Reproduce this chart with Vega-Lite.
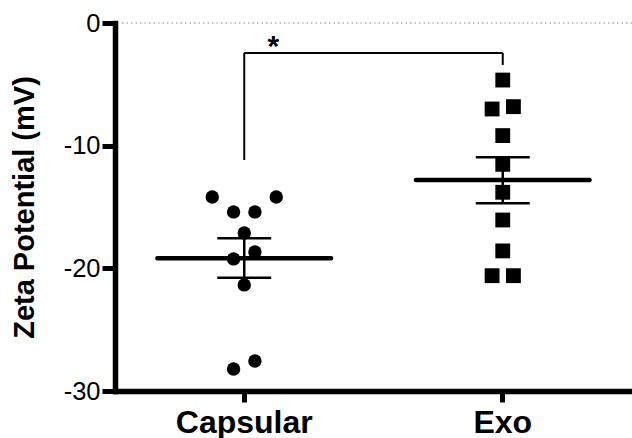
{
  "$schema": "https://vega.github.io/schema/vega-lite/v6.json",
  "width": 517,
  "height": 368,
  "autosize": {"type": "none"},
  "padding": {"left": 115, "top": 23, "right": 0, "bottom": 47},
  "background": "white",
  "config": {"view": {"stroke": null}, "font": "Liberation Sans"},
  "datasets": {
    "points": [
      {"group": "Capsular", "value": -14.18, "slot": -3},
      {"group": "Capsular", "value": -14.18, "slot": 3},
      {"group": "Capsular", "value": -15.40, "slot": -1},
      {"group": "Capsular", "value": -15.40, "slot": 1},
      {"group": "Capsular", "value": -17.11, "slot": 0},
      {"group": "Capsular", "value": -19.23, "slot": -1},
      {"group": "Capsular", "value": -18.66, "slot": 1},
      {"group": "Capsular", "value": -21.35, "slot": 0},
      {"group": "Capsular", "value": -28.20, "slot": -1},
      {"group": "Capsular", "value": -27.55, "slot": 1},
      {"group": "Exo", "value": -4.65, "slot": 0},
      {"group": "Exo", "value": -7.01, "slot": -1},
      {"group": "Exo", "value": -6.82, "slot": 1},
      {"group": "Exo", "value": -9.18, "slot": 0},
      {"group": "Exo", "value": -11.52, "slot": 0},
      {"group": "Exo", "value": -13.80, "slot": 0},
      {"group": "Exo", "value": -16.06, "slot": 0},
      {"group": "Exo", "value": -18.58, "slot": 0},
      {"group": "Exo", "value": -20.60, "slot": -1},
      {"group": "Exo", "value": -20.60, "slot": 1}
    ],
    "summary": [
      {"group": "Capsular", "mean": -19.18, "upper": -17.55, "lower": -20.76},
      {"group": "Exo", "mean": -12.80, "upper": -10.95, "lower": -14.69}
    ],
    "bracketH": [{"from": "Capsular", "to": "Exo", "level": -2.44}],
    "bracketV": [
      {"group": "Capsular", "top": -2.44, "bottom": -11.17},
      {"group": "Exo", "top": -2.44, "bottom": -3.42}
    ],
    "annot": [{"group": "Capsular", "value": -1.45, "label": "*"}],
    "ref": [{"value": 0}]
  },
  "layer": [
    {
      "data": {"name": "ref"},
      "mark": {"type": "rule", "color": "#8a8a8a", "strokeDash": [1.5, 3], "strokeWidth": 1},
      "encoding": {
        "y": {
          "field": "value", "type": "quantitative",
          "scale": {"domain": [-30, 0], "nice": false, "zero": false},
          "axis": {
            "title": "Zeta Potential (mV)",
            "values": [-30, -20, -10, 0],
            "labelExpr": "replace(datum.label, '\u2212', '-')",
            "grid": false,
            "domainWidth": 5.5, "domainColor": "black", "domainCap": "square",
            "tickColor": "black", "tickWidth": 5, "tickSize": 13,
            "labelPadding": 2, "labelFontSize": 25.5, "labelColor": "black",
            "labelFont": "Liberation Sans",
            "titleFont": "Liberation Sans",
            "titleFontSize": 29, "titleFontWeight": "bold", "titleColor": "black",
            "titlePadding": 24
          }
        }
      }
    },
    {
      "data": {"name": "points"},
      "transform": [{"filter": "datum.group === 'Capsular'"}],
      "mark": {"type": "point", "filled": true, "shape": "circle", "size": 180, "color": "black", "opacity": 1},
      "encoding": {
        "x": {
          "field": "group", "type": "nominal",
          "scale": {"type": "band", "paddingInner": 0, "paddingOuter": 0, "domain": ["Capsular", "Exo"]},
          "axis": {
            "title": null, "labelAngle": 0,
            "labelFontSize": 32, "labelFontWeight": "bold", "labelColor": "black",
            "labelFont": "Liberation Sans",
            "domainWidth": 5.5, "domainColor": "black", "domainCap": "square",
            "tickColor": "black", "tickWidth": 5, "tickSize": 11,
            "labelPadding": 5
          }
        },
        "xOffset": {"field": "slot", "type": "quantitative", "scale": {"domain": [-3, 3], "range": [97.25, 161.25]}},
        "y": {"field": "value", "type": "quantitative"}
      }
    },
    {
      "data": {"name": "points"},
      "transform": [{"filter": "datum.group === 'Exo'"}],
      "mark": {"type": "point", "filled": true, "shape": "square", "size": 220, "color": "black", "opacity": 1},
      "encoding": {
        "x": {"field": "group", "type": "nominal"},
        "xOffset": {"field": "slot", "type": "quantitative"},
        "y": {"field": "value", "type": "quantitative"}
      }
    },
    {
      "data": {"name": "summary"},
      "mark": {"type": "rule", "color": "black", "strokeWidth": 2.5},
      "encoding": {
        "x": {"field": "group", "type": "nominal"},
        "y": {"field": "lower", "type": "quantitative"},
        "y2": {"field": "upper"}
      }
    },
    {
      "data": {"name": "summary"},
      "mark": {"type": "tick", "size": 178, "thickness": 4.5, "color": "black", "opacity": 1, "cornerRadius": 2},
      "encoding": {
        "x": {"field": "group", "type": "nominal"},
        "y": {"field": "mean", "type": "quantitative"}
      }
    },
    {
      "data": {"name": "summary"},
      "mark": {"type": "tick", "size": 54, "thickness": 2.5, "color": "black", "opacity": 1},
      "encoding": {
        "x": {"field": "group", "type": "nominal"},
        "y": {"field": "upper", "type": "quantitative"}
      }
    },
    {
      "data": {"name": "summary"},
      "mark": {"type": "tick", "size": 54, "thickness": 2.5, "color": "black", "opacity": 1},
      "encoding": {
        "x": {"field": "group", "type": "nominal"},
        "y": {"field": "lower", "type": "quantitative"}
      }
    },
    {
      "data": {"name": "bracketH"},
      "mark": {"type": "rule", "color": "black", "strokeWidth": 2},
      "encoding": {
        "x": {"field": "from", "type": "nominal"},
        "x2": {"field": "to"},
        "y": {"field": "level", "type": "quantitative"}
      }
    },
    {
      "data": {"name": "bracketV"},
      "mark": {"type": "rule", "color": "black", "strokeWidth": 2},
      "encoding": {
        "x": {"field": "group", "type": "nominal"},
        "y": {"field": "bottom", "type": "quantitative"},
        "y2": {"field": "top"}
      }
    },
    {
      "data": {"name": "annot"},
      "mark": {"type": "text", "fontSize": 30, "fontWeight": "bold", "color": "black", "align": "center", "baseline": "middle", "dx": 29, "dy": 6, "font": "Liberation Sans"},
      "encoding": {
        "x": {"field": "group", "type": "nominal"},
        "y": {"field": "value", "type": "quantitative"},
        "text": {"field": "label"}
      }
    }
  ]
}
